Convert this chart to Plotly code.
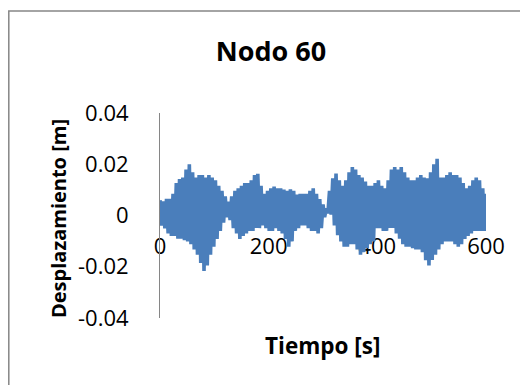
import plotly.graph_objects as go

# Time samples (s), every 3 s from 0 to 600
tiempo = list(range(0, 601, 3))

# Displacement (m) (alternating peaks of the dense oscillation)
desplazamiento = [
    0.0060, -0.0040, 0.0055, -0.0050, 0.0065, -0.0070, 0.0065, -0.0080, 0.0085, -0.0080,
    0.0127, -0.0091, 0.0142, -0.0091, 0.0148, -0.0096, 0.0179, -0.0101, 0.0200, -0.0112,
    0.0169, -0.0133, 0.0148, -0.0153, 0.0158, -0.0185, 0.0158, -0.0216, 0.0148, -0.0195,
    0.0158, -0.0153, 0.0148, -0.0122, 0.0137, -0.0091, 0.0116, -0.0060, 0.0096, -0.0028,
    0.0075, -0.0007, 0.0054, -0.0018, 0.0075, -0.0049, 0.0096, -0.0070, 0.0106, -0.0091,
    0.0116, -0.0080, 0.0127, -0.0070, 0.0127, -0.0060, 0.0137, -0.0060, 0.0158, -0.0049,
    0.0163, -0.0049, 0.0116, -0.0039, 0.0085, -0.0049, 0.0096, -0.0060, 0.0106, -0.0060,
    0.0113, -0.0049, 0.0106, -0.0060, 0.0106, -0.0070, 0.0101, -0.0091, 0.0096, -0.0122,
    0.0102, -0.0101, 0.0096, -0.0060, 0.0082, -0.0049, 0.0085, -0.0039, 0.0085, -0.0039,
    0.0085, -0.0049, 0.0096, -0.0060, 0.0106, -0.0060, 0.0085, -0.0070, 0.0064, -0.0049,
    0.0043, -0.0007, 0.0028, 0.0008, 0.0096, 0.0003, 0.0145, -0.0039, 0.0164, -0.0077,
    0.0137, -0.0101, 0.0116, -0.0122, 0.0137, -0.0122, 0.0169, -0.0112, 0.0189, -0.0112,
    0.0179, -0.0133, 0.0158, -0.0153, 0.0148, -0.0143, 0.0133, -0.0128, 0.0116, -0.0112,
    0.0116, -0.0101, 0.0127, -0.0049, 0.0137, -0.0049, 0.0116, -0.0060, 0.0106, -0.0060,
    0.0137, -0.0049, 0.0179, -0.0049, 0.0189, -0.0070, 0.0179, -0.0091, 0.0189, -0.0112,
    0.0169, -0.0122, 0.0148, -0.0122, 0.0137, -0.0128, 0.0137, -0.0133, 0.0148, -0.0133,
    0.0158, -0.0143, 0.0148, -0.0174, 0.0145, -0.0195, 0.0169, -0.0174, 0.0200, -0.0153,
    0.0221, -0.0133, 0.0148, -0.0112, 0.0148, -0.0101, 0.0158, -0.0101, 0.0169, -0.0101,
    0.0158, -0.0112, 0.0158, -0.0122, 0.0148, -0.0112, 0.0127, -0.0091, 0.0106, -0.0080,
    0.0116, -0.0070, 0.0137, -0.0060, 0.0148, -0.0060, 0.0137, -0.0060, 0.0106, -0.0060,
    0.0085,
]

y_ticks = [-0.04, -0.02, 0, 0.02, 0.04]
y_ticktext = ["-0.04", "-0.02", "0", "0.02", "0.04"]
x_ticks = [0, 200, 400, 600]

FONT = "Open Sans"
BLUE = "#4A7EBB"
GRAY = "#868686"

# plot area inside the 520x377 figure (page has an 8px body margin)
L, R, T, B = 152, 42, 105, 67
PW, PH = 520 - L - R, 377 - T - B


def px_x(v):
    return (v - L) / PW


def px_y(v):
    return (377 - B - v) / PH


fig = go.Figure()
fig.add_trace(go.Scatter(
    x=tiempo, y=desplazamiento, mode="lines",
    line=dict(color=BLUE, width=3.6, simplify=False),
    showlegend=False, hoverinfo="skip",
))

fig.update_layout(
    width=520, height=377,
    margin=dict(l=L, r=R, t=T, b=B),
    paper_bgcolor="white", plot_bgcolor="white",
    font=dict(family=FONT, color="black"),
    title=dict(text="<b>Nodo 60</b>", x=263 / 520, xref="container", xanchor="center",
               y=1 - 44 / 377, yref="container", yanchor="middle",
               font=dict(size=27, family=FONT, color="black")),
    xaxis=dict(range=[0, 600], tickvals=x_ticks, ticktext=[str(v) for v in x_ticks],
               anchor="free", position=0.5, showgrid=False, zeroline=False,
               showline=False, ticks="outside", ticklen=11, tickcolor="rgba(0,0,0,0)",
               tickfont=dict(size=22, family=FONT, color="black"), layer="below traces"),
    yaxis=dict(range=[-0.04, 0.04], tickvals=y_ticks, ticktext=y_ticktext,
               showgrid=False, zeroline=False, showline=True, linecolor=GRAY, linewidth=1,
               ticks="outside", ticklen=26, tickcolor="rgba(0,0,0,0)",
               tickfont=dict(size=22, family=FONT, color="black")),
    annotations=[
        dict(text="<b>Tiempo [s]</b>", xref="paper", yref="paper",
             x=px_x(314), y=px_y(337), xanchor="center", yanchor="middle",
             showarrow=False, font=dict(size=22.5, family=FONT, color="black")),
        dict(text="<b>Desplazamiento [m]</b>", xref="paper", yref="paper",
             x=px_x(50), y=px_y(210), xanchor="center", yanchor="middle",
             textangle=-90, showarrow=False, font=dict(size=20, family=FONT, color="black")),
    ],
    shapes=[
        dict(type="rect", xref="paper", yref="paper",
             x0=px_x(0.8), x1=px_x(560), y0=px_y(420), y1=px_y(3),
             line=dict(color=GRAY, width=1.5), fillcolor="rgba(0,0,0,0)", layer="below"),
    ],
)

fig.write_html("out.html")
